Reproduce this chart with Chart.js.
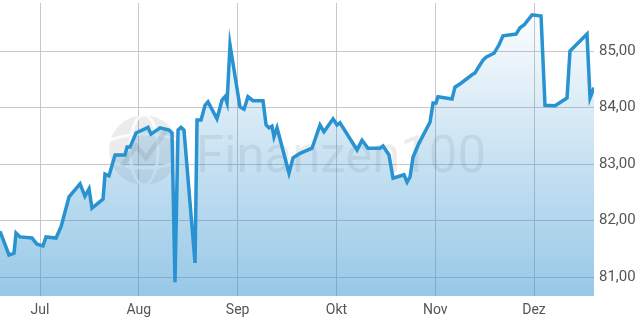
<!DOCTYPE html>
<html>

<head>
    <title>Kursverlauf</title>
    <script src="https://cdn.jsdelivr.net/npm/chart.js@4"></script>
    <style>
        body { margin: 0; background: #fff; }
    </style>
</head>

<body>
    <canvas id="chart" width="640" height="320"></canvas>
    <script>
        // month labels, x position 0 = 1. Jul, 1 = 1. Aug, ...
        const months = ['Jul', 'Aug', 'Sep', 'Okt', 'Nov', 'Dez'];

        // position of each quote in months since 1. Jul
        const monthPos = [
            -0.405, -0.314, -0.263, -0.243, -0.202, -0.081, -0.030, 0.030, 0.061, 0.162,
            0.213, 0.253, 0.294, 0.405, 0.455, 0.496, 0.526, 0.638, 0.658, 0.698,
            0.759, 0.860, 0.881, 0.911, 0.972, 1.093, 1.123, 1.215, 1.306, 1.336,
            1.366, 1.397, 1.427, 1.457, 1.569, 1.589, 1.630, 1.670, 1.700, 1.791,
            1.842, 1.872, 1.893, 1.923, 2.024, 2.065, 2.105, 2.156, 2.257, 2.288,
            2.318, 2.348, 2.368, 2.399, 2.520, 2.561, 2.632, 2.753, 2.834, 2.874,
            2.966, 3.006, 3.036, 3.209, 3.259, 3.320, 3.441, 3.472, 3.532, 3.573,
            3.684, 3.715, 3.745, 3.775, 3.836, 3.947, 3.978, 4.008, 4.028, 4.170,
            4.200, 4.261, 4.372, 4.403, 4.433, 4.484, 4.514, 4.595, 4.646, 4.686,
            4.818, 4.858, 4.899, 4.980, 5.071, 5.111, 5.213, 5.334, 5.364, 5.536,
            5.567, 5.607
        ];

        // closing prices
        const prices = [
            81.81, 81.39, 81.42, 81.78, 81.71, 81.69, 81.58, 81.55, 81.71, 81.69,
            81.89, 82.15, 82.42, 82.65, 82.43, 82.56, 82.22, 82.38, 82.82, 82.79,
            83.16, 83.16, 83.30, 83.30, 83.55, 83.65, 83.53, 83.64, 83.60, 83.55,
            80.91, 83.60, 83.65, 83.60, 81.25, 83.78, 83.78, 84.04, 84.10, 83.80,
            84.13, 84.19, 84.08, 85.11, 84.01, 83.97, 84.19, 84.12, 84.12, 83.69,
            83.64, 83.67, 83.48, 83.64, 82.84, 83.11, 83.19, 83.28, 83.69, 83.57,
            83.80, 83.69, 83.73, 83.25, 83.42, 83.28, 83.28, 83.32, 83.16, 82.75,
            82.81, 82.68, 82.77, 83.12, 83.37, 83.74, 84.08, 84.08, 84.19, 84.15,
            84.36, 84.43, 84.58, 84.61, 84.70, 84.84, 84.89, 84.96, 85.11, 85.27,
            85.30, 85.41, 85.46, 85.64, 85.62, 84.04, 84.03, 84.17, 85.00, 85.30,
            84.17, 84.35
        ];

        const yMin = 80.664;
        const yMax = 85.85;

        const points = monthPos.map((m, i) => ({ x: m, y: prices[i] }));

        // faint "Finanzen100" logo behind the line
        const watermark = {
            id: 'watermark',
            beforeDatasetsDraw(chart) {
                const ctx = chart.ctx;
                ctx.save();
                // globe
                ctx.fillStyle = 'rgba(0,0,0,0.075)';
                ctx.beginPath();
                ctx.arc(144, 150, 35, 0, Math.PI * 2);
                ctx.fill();
                ctx.strokeStyle = 'rgba(255,255,255,0.8)';
                ctx.lineWidth = 3;
                ctx.beginPath();
                ctx.ellipse(144, 150, 14, 35, 0, 0, Math.PI * 2);
                ctx.stroke();
                ctx.beginPath();
                ctx.moveTo(110, 140);
                ctx.quadraticCurveTo(144, 128, 178, 140);
                ctx.moveTo(110, 162);
                ctx.quadraticCurveTo(144, 174, 178, 162);
                ctx.stroke();
                ctx.strokeStyle = 'rgba(0,0,0,0.09)';
                ctx.lineWidth = 5;
                ctx.beginPath();
                ctx.moveTo(122, 166);
                ctx.lineTo(136, 146);
                ctx.lineTo(146, 158);
                ctx.lineTo(168, 128);
                ctx.stroke();
                // name
                ctx.fillStyle = 'rgba(0,0,0,0.075)';
                ctx.font = '52px Roboto';
                ctx.textBaseline = 'alphabetic';
                ctx.fillText('Finanzen100', 196, 172, 290);
                ctx.restore();
            }
        };

        const canvas = document.getElementById('chart');

        const chart = new Chart(canvas, {
            type: 'line',
            data: {
                datasets: [
                    {
                        data: points,
                        borderColor: '#2893d0',
                        borderWidth: 3.5,
                        pointRadius: 0,
                        tension: 0,
                        fill: 'start',
                        backgroundColor: (context) => {
                            const area = context.chart.chartArea;
                            if (!area) return 'rgba(38,140,205,0.25)';
                            const g = context.chart.ctx.createLinearGradient(0, area.top, 0, area.bottom);
                            g.addColorStop(0, 'rgba(38,140,205,0.0)');
                            g.addColorStop(1, 'rgba(38,140,205,0.48)');
                            return g;
                        },
                    },
                ],
            },
            options: {
                responsive: false,
                animation: false,
                layout: { padding: { top: 3, left: 0, right: 0, bottom: 0 } },
                plugins: {
                    legend: { display: false },
                    tooltip: { enabled: false },
                },
                scales: {
                    x: {
                        type: 'linear',
                        min: -0.405,
                        max: 5.607,
                        grid: { color: '#c8c8c8', drawTicks: false },
                        border: { display: false },
                        afterFit: (scale) => {
                            scale.height = 24;
                            scale.paddingLeft = 0;
                            scale.paddingRight = 0;
                        },
                        ticks: {
                            stepSize: 1,
                            includeBounds: false,
                            autoSkip: false,
                            maxRotation: 0,
                            padding: 6,
                            color: '#555',
                            font: { family: 'Roboto', size: 14 },
                            callback: (v) => months[v] ?? '',
                        },
                    },
                    y: {
                        position: 'right',
                        min: yMin,
                        max: yMax,
                        grid: { color: '#c8c8c8', drawTicks: false },
                        border: { display: false },
                        afterFit: (scale) => {
                            scale.width = 46;
                            scale.paddingTop = 0;
                            scale.paddingBottom = 0;
                        },
                        ticks: {
                            stepSize: 1,
                            includeBounds: false,
                            padding: 5,
                            color: '#555',
                            font: { family: 'Roboto', size: 15 },
                            callback: (v) => v.toFixed(2).replace('.', ','),
                        },
                    },
                },
            },
            plugins: [watermark],
        });
    </script>
</body>

</html>
